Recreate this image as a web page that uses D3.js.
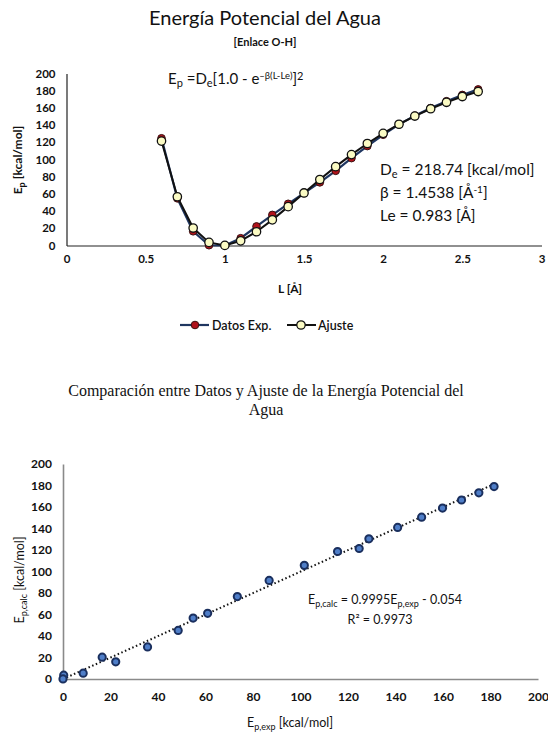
<!DOCTYPE html>
<html>
<head>
<meta charset="utf-8">
<script src="https://cdn.jsdelivr.net/npm/d3@7"></script>
<style>
  body { margin: 0; background: #fff; }
  svg text { font-family: Lato, "Open Sans", sans-serif; fill: #111; }
  .serif { font-family: "Liberation Serif", "DejaVu Serif", serif !important; }
</style>
</head>
<body>
<svg id="viz" width="548" height="738"></svg>
<script>
// distancia O-H [Å]
const L = [0.6, 0.7, 0.8, 0.9, 1.0, 1.1, 1.2, 1.3, 1.4, 1.5, 1.6, 1.7, 1.8, 1.9, 2.0, 2.1, 2.2, 2.3, 2.4, 2.5, 2.6];
// energía experimental [kcal/mol]
const epExp = [124.7, 54.8, 16.5, 0.3, 0.0, 8.5, 22.2, 35.6, 48.5, 60.9, 73.4, 86.8, 101.6, 115.6, 128.8, 140.9, 151.0, 159.8, 167.8, 175.1, 181.5];
// energía del ajuste (Morse) [kcal/mol]
const epCalc = [121.4, 56.7, 20.3, 3.6, 0.1, 5.4, 16.0, 29.8, 45.2, 61.1, 76.7, 91.7, 105.7, 118.6, 130.4, 141.0, 150.5, 159.0, 166.5, 173.2, 179.0];

const topXTicks = [0, 0.5, 1, 1.5, 2, 2.5, 3];
const topYTicks = [0, 20, 40, 60, 80, 100, 120, 140, 160, 180, 200];
const botTicks = [0, 20, 40, 60, 80, 100, 120, 140, 160, 180, 200];

// trendline params shown on chart
const trendSlope = 0.9995, trendIntercept = -0.054;

const svg = d3.select('#viz');

// ----------------------- TOP CHART: Ep vs L

const x1 = d3.scaleLinear().domain([0, 3]).range([66.5, 541.5]);
const y1 = d3.scaleLinear().domain([0, 200]).range([245.5, 73.5]);

svg.append('text').attr('x', 265).attr('y', 25)
  .attr('text-anchor', 'middle').style('font-size', '20px')
  .text('Energía Potencial del Agua');
svg.append('text').attr('x', 265).attr('y', 46)
  .attr('text-anchor', 'middle').style('font-size', '11px').style('font-weight', 'bold')
  .text('[Enlace O-H]');

const gx1 = svg.append('g').attr('transform', `translate(0, ${y1(0)})`)
  .call(d3.axisBottom(x1).tickValues(topXTicks).tickFormat(d3.format('')).tickSize(0).tickSizeOuter(0).tickPadding(9));
const gy1 = svg.append('g').attr('transform', `translate(${x1(0)}, 0)`)
  .call(d3.axisLeft(y1).tickValues(topYTicks).tickSize(0).tickSizeOuter(0).tickPadding(11));
[gx1, gy1].forEach(g => {
  g.select('.domain').attr('stroke', '#222').attr('stroke-width', 1.2);
  g.selectAll('text').style('font-family', 'Lato, sans-serif').style('font-size', '11.5px')
    .style('font-weight', 'bold').attr('fill', '#111');
});

// lines
const lineExp = d3.line().x((d, i) => x1(L[i])).y(d => y1(d));
svg.append('path').datum(epExp).attr('d', lineExp)
  .attr('fill', 'none').attr('stroke', '#1f3660').attr('stroke-width', 2.2);
svg.selectAll('.dotExp').data(epExp).enter().append('circle')
  .attr('cx', (d, i) => x1(L[i])).attr('cy', d => y1(d)).attr('r', 3.8)
  .attr('fill', '#b0121b').attr('stroke', '#3a1010').attr('stroke-width', 1);

svg.append('path').datum(epCalc).attr('d', lineExp)
  .attr('fill', 'none').attr('stroke', '#111').attr('stroke-width', 2);
svg.selectAll('.dotFit').data(epCalc).enter().append('circle')
  .attr('cx', (d, i) => x1(L[i])).attr('cy', d => y1(d)).attr('r', 4.2)
  .attr('fill', '#fbfbc4').attr('stroke', '#111').attr('stroke-width', 1.3);

// formula
const f = svg.append('text').attr('x', 168).attr('y', 84).style('font-size', '15px');
f.append('tspan').text('E');
f.append('tspan').attr('dy', 3).style('font-size', '11px').text('p');
f.append('tspan').attr('dy', -3).text(' =D');
f.append('tspan').attr('dy', 3).style('font-size', '11px').text('e');
f.append('tspan').attr('dy', -3).text('[1.0 - e');
f.append('tspan').attr('dy', -5).style('font-size', '9.5px').text('–β(L-Le)');
f.append('tspan').attr('dy', 5).text(']');
f.append('tspan').attr('dy', -4).style('font-size', '11px').text('2');

// params
const p1 = svg.append('text').attr('x', 380).attr('y', 175).style('font-size', '15.5px');
p1.append('tspan').text('D');
p1.append('tspan').attr('dy', 3).style('font-size', '11px').text('e');
p1.append('tspan').attr('dy', -3).text(' = 218.74 [kcal/mol]');
const p2 = svg.append('text').attr('x', 380).attr('y', 198).style('font-size', '15.5px');
p2.append('tspan').text('β = 1.4538 [Å');
p2.append('tspan').attr('dy', -5).style('font-size', '10px').text('-1');
p2.append('tspan').attr('dy', 5).text(']');
svg.append('text').attr('x', 380).attr('y', 221).style('font-size', '15.5px').text('Le = 0.983 [Å]');

// axis titles
const yt1 = svg.append('text').attr('transform', 'translate(22, 160) rotate(-90)')
  .attr('text-anchor', 'middle').style('font-size', '12px').style('font-weight', 'bold');
yt1.append('tspan').text('E');
yt1.append('tspan').attr('dy', 3).style('font-size', '9px').text('p');
yt1.append('tspan').attr('dy', -3).text(' [kcal/mol]');
svg.append('text').attr('x', 290).attr('y', 293).attr('text-anchor', 'middle')
  .style('font-size', '12px').style('font-weight', 'bold').text('L [Å]');

// legend
const leg = svg.append('g').attr('transform', 'translate(0, 325)');
leg.append('line').attr('x1', 180).attr('x2', 209).attr('stroke', '#1f3660').attr('stroke-width', 2.2);
leg.append('circle').attr('cx', 195).attr('r', 3.8).attr('fill', '#b0121b').attr('stroke', '#3a1010');
leg.append('text').attr('x', 212).attr('y', 4.5).style('font-size', '12.5px').style('font-weight', '600').text('Datos Exp.');
leg.append('line').attr('x1', 287).attr('x2', 316).attr('stroke', '#111').attr('stroke-width', 2);
leg.append('circle').attr('cx', 301).attr('r', 4.2).attr('fill', '#fbfbc4').attr('stroke', '#111').attr('stroke-width', 1.3);
leg.append('text').attr('x', 318).attr('y', 4.5).style('font-size', '12.5px').style('font-weight', '600').text('Ajuste');

// ----------------------- BOTTOM CHART: calc vs exp

const x2 = d3.scaleLinear().domain([0, 200]).range([63, 538]);
const y2 = d3.scaleLinear().domain([0, 200]).range([679, 464]);

svg.append('text').attr('class', 'serif').attr('x', 266).attr('y', 396)
  .attr('text-anchor', 'middle').style('font-size', '16px')
  .text('Comparación entre Datos y Ajuste de la Energía Potencial del');
svg.append('text').attr('class', 'serif').attr('x', 266).attr('y', 415)
  .attr('text-anchor', 'middle').style('font-size', '16px').text('Agua');

const gx2 = svg.append('g').attr('transform', `translate(0, ${y2(0)})`)
  .call(d3.axisBottom(x2).tickValues(botTicks).tickSize(0).tickSizeOuter(0).tickPadding(13));
const gy2 = svg.append('g').attr('transform', `translate(${x2(0)}, 0)`)
  .call(d3.axisLeft(y2).tickValues(botTicks).tickSize(0).tickSizeOuter(0).tickPadding(11));
[gx2, gy2].forEach(g => {
  g.select('.domain').attr('stroke', '#8a8a8a').attr('stroke-width', 1.6);
  g.selectAll('text').style('font-family', 'Lato, sans-serif').style('font-size', '12px')
    .style('font-weight', 'bold').attr('fill', '#111');
});

// trendline
const xMax = d3.max(epExp);
svg.append('line')
  .attr('x1', x2(0)).attr('y1', y2(trendIntercept))
  .attr('x2', x2(xMax)).attr('y2', y2(trendSlope * xMax + trendIntercept))
  .attr('stroke', '#111').attr('stroke-width', 2).attr('stroke-dasharray', '1.5,2.5');

svg.selectAll('.pt').data(epExp).enter().append('circle')
  .attr('cx', d => x2(d)).attr('cy', (d, i) => y2(epCalc[i])).attr('r', 3.6)
  .attr('fill', '#4f7ec8').attr('stroke', '#1a2f5e').attr('stroke-width', 2);

// equation
const eq = svg.append('text').attr('x', 308).attr('y', 604).style('font-size', '12.5px');
eq.append('tspan').text('E');
eq.append('tspan').attr('dy', 3).style('font-size', '9px').text('p,calc');
eq.append('tspan').attr('dy', -3).text(' = 0.9995E');
eq.append('tspan').attr('dy', 3).style('font-size', '9px').text('p,exp');
eq.append('tspan').attr('dy', -3).text(' - 0.054');
svg.append('text').attr('x', 380).attr('y', 624).attr('text-anchor', 'middle')
  .style('font-size', '12.5px').text('R² = 0.9973');

const yt2 = svg.append('text').attr('transform', 'translate(24, 580) rotate(-90)')
  .attr('text-anchor', 'middle').style('font-size', '12.5px');
yt2.append('tspan').text('E');
yt2.append('tspan').attr('dy', 3).style('font-size', '9px').text('p,calc');
yt2.append('tspan').attr('dy', -3).text(' [kcal/mol]');

const xt2 = svg.append('text').attr('x', 290).attr('y', 727).attr('text-anchor', 'middle')
  .style('font-size', '12.5px');
xt2.append('tspan').text('E');
xt2.append('tspan').attr('dy', 3).style('font-size', '9px').text('p,exp');
xt2.append('tspan').attr('dy', -3).text(' [kcal/mol]');
</script>
</body>
</html>
